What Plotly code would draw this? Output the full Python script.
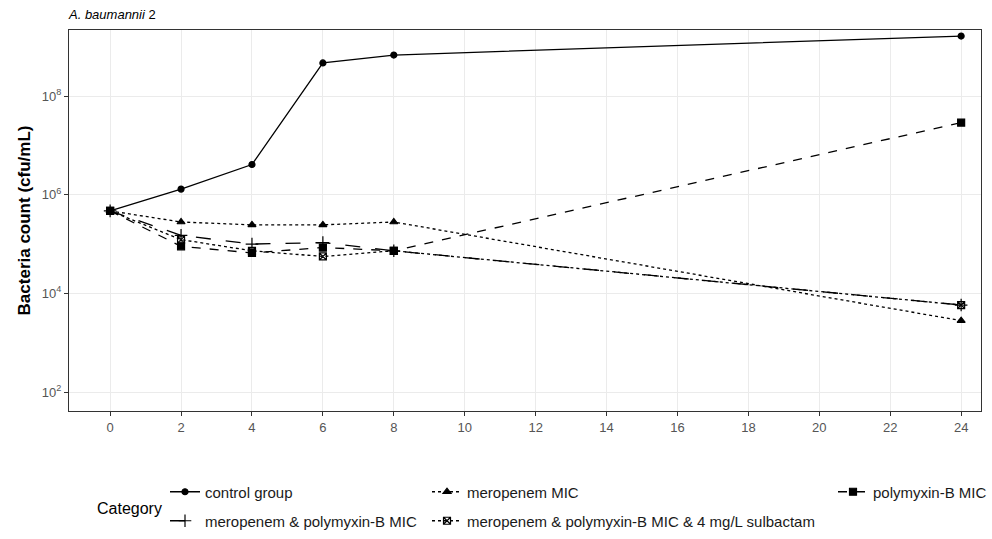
import plotly.graph_objects as go

time_h = [0, 2, 4, 6, 8, 24]
control_group = [4.7e5, 1.3e6, 4.1e6, 4.7e8, 6.8e8, 1.65e9]
meropenem_mic = [4.7e5, 2.8e5, 2.45e5, 2.45e5, 2.8e5, 2.8e3]
polymyxin_mic = [4.7e5, 9.0e4, 6.6e4, 8.5e4, 7.3e4, 2.9e7]
mero_poly_mic = [4.7e5, 1.5e5, 1.0e5, 1.07e5, 7.3e4, 5.8e3]
mero_poly_sulb = [4.7e5, 1.23e5, 7.3e4, 5.6e4, 7.3e4, 5.8e3]

series_names = [
    "control group",
    "meropenem MIC",
    "polymyxin-B MIC",
    "meropenem & polymyxin-B MIC",
    "meropenem & polymyxin-B MIC & 4 mg/L sulbactam",
]
series_values = [control_group, meropenem_mic, polymyxin_mic, mero_poly_mic, mero_poly_sulb]
dashes = ["solid", "dot", "dash", "longdash", "dot"]
symbols = ["circle", "triangle-up", "square", "cross-thin-open", "square-x-open"]
msizes = [6, 7, 7, 9, 7]
legend_ids = ["legend", "legend2", "legend3", "legend4", "legend5"]
legend_px = [(165, 492), (427, 492), (833, 492), (165, 521), (427, 521)]

y_tickvals = [1e2, 1e4, 1e6, 1e8]
y_ticktext = ["10<sup>2</sup>", "10<sup>4</sup>", "10<sup>6</sup>", "10<sup>8</sup>"]
x_tickvals = list(range(0, 25, 2))

W, H = 992, 539
L, R, T, B = 69, 11, 30, 128
PW, PH = W - L - R, H - T - B
FONT = "Liberation Sans, Arial, sans-serif"

def px_to_paper(px, py):
    return (px - L) / PW, (H - B - py) / PH

fig = go.Figure()
for name, vals, d, s, ms, lg in zip(series_names, series_values, dashes, symbols, msizes, legend_ids):
    fig.add_trace(go.Scatter(
        x=time_h, y=vals, name=name, mode="lines+markers",
        line=dict(color="#000000", width=1.3, dash=d),
        marker=dict(symbol=s, size=ms, color="#000000", line=dict(color="#000000", width=1.2)),
        legend=lg,
    ))

layout_legends = {}
for lg, (px, py) in zip(legend_ids, legend_px):
    lx, ly = px_to_paper(px, py)
    layout_legends[lg] = dict(
        x=lx, y=ly, xanchor="left", yanchor="middle", bgcolor="rgba(0,0,0,0)",
        font=dict(family=FONT, size=15, color="#1a1a1a"),
        itemwidth=30,
    )

fig.update_layout(
    width=W, height=H,
    margin=dict(l=L, r=R, t=T, b=B, autoexpand=False),
    paper_bgcolor="white", plot_bgcolor="white",
    font=dict(family=FONT, size=12, color="#555555"),
    title=dict(text="<i>A. baumannii</i> 2", x=69 / W, xanchor="left", y=1 - 14 / H, yanchor="middle",
               font=dict(size=13, color="#000000")),
    showlegend=True,
    **layout_legends,
)
fig.update_xaxes(
    range=[-1.16, 24.56], tickvals=x_tickvals,
    showgrid=True, gridcolor="#ebebeb", gridwidth=1,
    showline=True, mirror=True, linecolor="#333333", linewidth=1,
    ticks="outside", ticklen=4, tickcolor="#333333",
    tickfont=dict(size=13, color="#555555"), zeroline=False,
)
fig.update_yaxes(
    type="log", range=[1.615, 9.34], tickvals=y_tickvals, ticktext=y_ticktext,
    showgrid=True, gridcolor="#ebebeb", gridwidth=1,
    showline=True, mirror=True, linecolor="#333333", linewidth=1,
    ticks="outside", ticklen=4, tickcolor="#333333",
    tickfont=dict(size=13, color="#555555"), zeroline=False,
    title=dict(text="<b>Bacteria count (cfu/mL)</b>", font=dict(size=17, color="#000000"), standoff=6),
)
cx, cy = px_to_paper(95, 508)
fig.add_annotation(
    text="Category", xref="paper", yref="paper",
    x=cx, y=cy, xanchor="left", yanchor="middle",
    showarrow=False, font=dict(size=16, color="#000000"),
)
fig.write_html("out.html")
